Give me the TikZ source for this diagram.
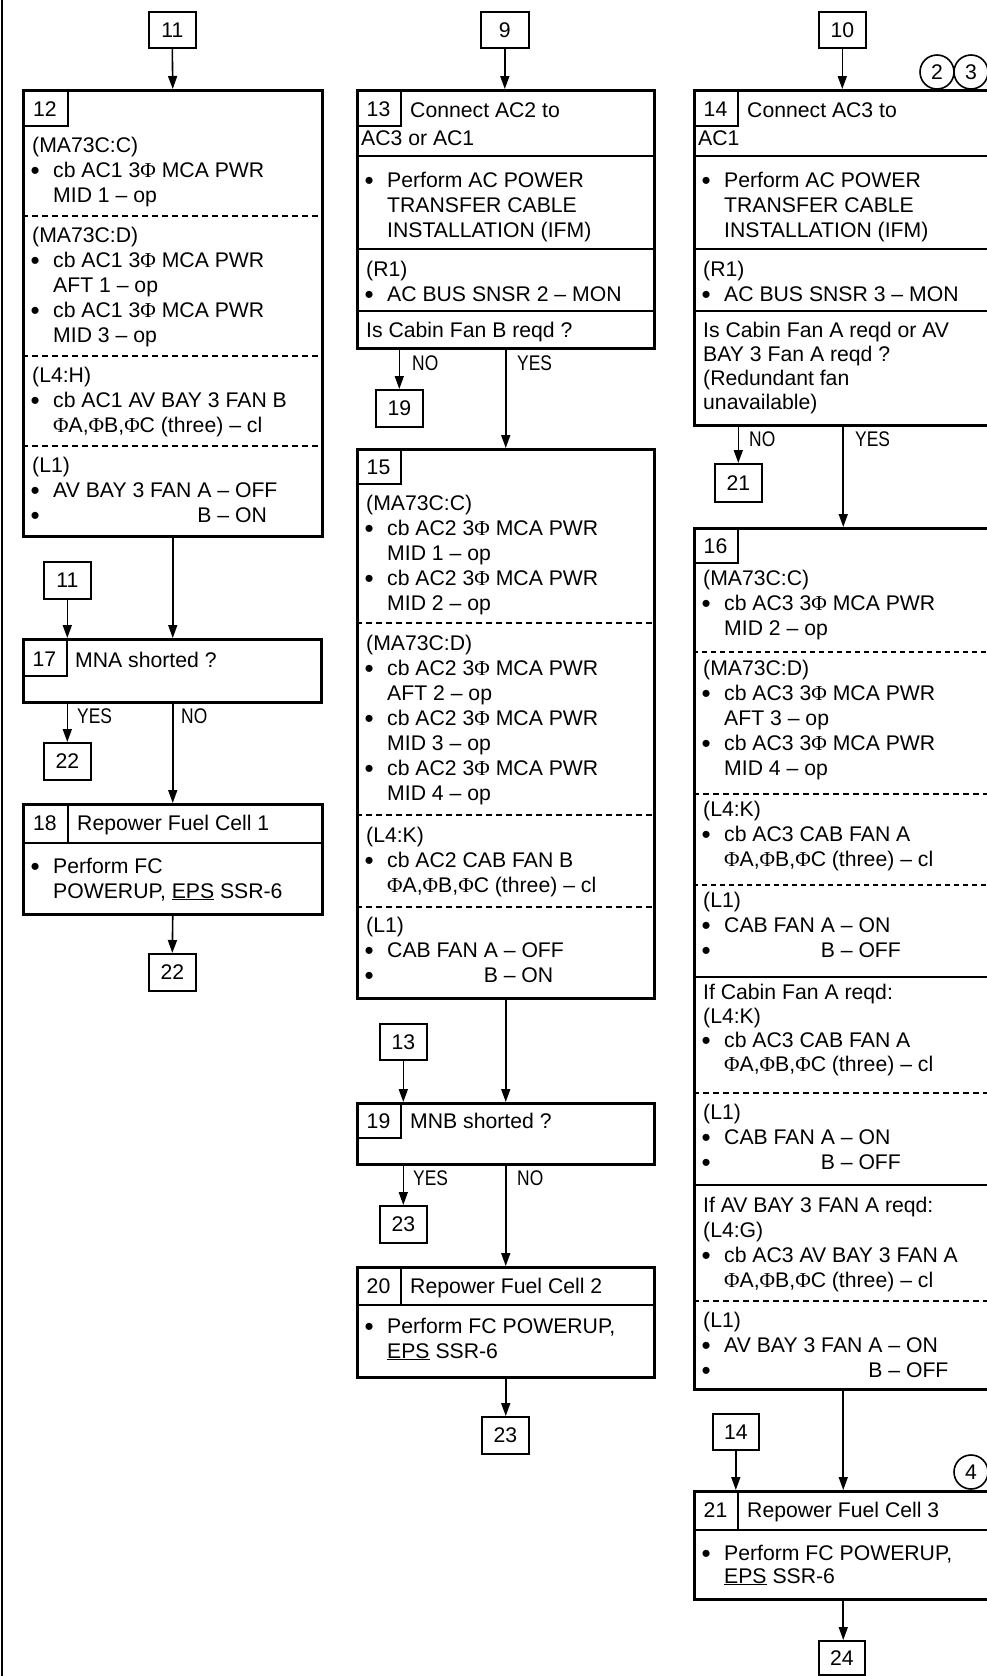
\documentclass[tikz,border=0pt]{standalone}
\usepackage{fontspec}
\setmainfont{Liberation Sans}
\newfontfamily\phfont{Liberation Serif}
\newfontfamily\narrowfont[FakeStretch=0.82]{Liberation Sans}
\usetikzlibrary{arrows.meta}
\newcommand{\Ph}{{\phfont Φ}}
\newcounter{tc}
\newcommand{\Tx}[3]{\stepcounter{tc}\node[txt] (t\arabic{tc}) at (#1,#2) {#3};}
\newcommand{\Nm}[3]{\stepcounter{tc}\node[num] (t\arabic{tc}) at (#1,#2) {#3};}
\newcommand{\Hd}[3]{\Tx{#1+10}{#2}{#3}}
\newcommand{\Bl}[3]{\Tx{#1+8.5}{#2+2}{\fontsize{26}{25}\selectfont •}\Tx{#1+31}{#2}{#3}}
\newcommand{\Lb}[3]{\stepcounter{tc}\node[txt,font=\fontsize{21.2}{25}\narrowfont] (t\arabic{tc}) at (#1,#2) {#3};}
\begin{document}
\begin{tikzpicture}[x=1pt,y=-1pt,
  every node/.style={font=\fontsize{21.2}{25}\selectfont},
  txt/.style={anchor=base west,inner sep=0pt},
  num/.style={anchor=base,inner sep=0pt},
  box/.style={draw,line width=2.5pt,anchor=north west,inner sep=0pt},
  sbox/.style={draw,line width=1.6pt,anchor=north west,inner sep=0pt},
  circ/.style={draw,circle,line width=1.6pt,minimum size=34pt,inner sep=0pt},
  tab/.style={line width=1.6pt},
  div/.style={line width=2.4pt},
  dsh/.style={line width=1.8pt,dash pattern=on 6pt off 4pt},
  dshb/.style={line width=2.4pt,dash pattern=on 5pt off 4pt},
  arr/.style={line width=1.6pt,-{Triangle[length=13pt,width=9pt]}},
]
\useasboundingbox (0,0) rectangle (987,1676);
\clip (0,0) rectangle (987,1676);
\draw[line width=2.5pt] (2,0) -- (2,1676);

% ================= Column 1 =================
\node[sbox,minimum width=47pt,minimum height=36pt] (r11a) at (148,11) {11};
\node[box,minimum width=299pt,minimum height=446pt] (b12) at (22,89) {};
\draw[arr] (r11a.south) -- (b12.north);
\draw[tab] (68,89) |- (22,126);
\Nm{45}{116}{12}
\Hd{22}{152}{(MA73C:C)}
\Bl{22}{177}{cb AC1 3\Ph{} MCA PWR}
\Tx{53}{202}{MID 1 – op}
\draw[dsh] (22,216) -- (321,216);
\Hd{22}{242}{(MA73C:D)}
\Bl{22}{267}{cb AC1 3\Ph{} MCA PWR}
\Tx{53}{292}{AFT 1 – op}
\Bl{22}{317}{cb AC1 3\Ph{} MCA PWR}
\Tx{53}{342}{MID 3 – op}
\draw[dsh] (22,356) -- (321,356);
\Hd{22}{382}{(L4:H)}
\Bl{22}{407}{cb AC1 AV BAY 3 FAN B}
\Tx{53}{432}{\Ph A,\Ph B,\Ph C (three) – cl}
\draw[dsh] (22,446) -- (321,446);
\Hd{22}{472}{(L1)}
\Bl{22}{497}{AV BAY 3 FAN A – OFF}
\Bl{22}{522}{\phantom{AV BAY 3 FAN }B – ON}

\node[sbox,minimum width=47pt,minimum height=37pt] (r11b) at (43,561) {11};
\node[box,minimum width=298pt,minimum height=63pt] (b17) at (22,638) {};
\draw[arr] (r11b.south) -- (r11b.south |- b17.north);
\draw[arr] (b12.south) -- (b12.south |- b17.north);
\draw[tab] (67,638) |- (22,676);
\Nm{44.5}{666}{17}
\Tx{75}{667}{MNA shorted ?}
\node[sbox,minimum width=47pt,minimum height=37pt] (r22a) at (43,742) {22};
\draw[arr] (b17.south -| r22a.north) -- (r22a.north);
\Lb{77}{723}{YES}
\node[box,minimum width=299pt,minimum height=110pt] (b18) at (22,803) {};
\draw[arr] (b17.south -| b18.north) -- (b18.north);
\Lb{181}{723}{NO}
\draw[div] (22,843) -- (321,843);
\draw[tab] (68,803) -- (68,843);
\Nm{45}{830}{18}
\Tx{77}{830}{Repower Fuel Cell 1}
\Bl{22}{873}{Perform FC}
\Tx{53}{898}{POWERUP, \underline{EPS} SSR-6}
\node[sbox,minimum width=47pt,minimum height=37pt] (r22b) at (148,953) {22};
\draw[arr] (b18.south) -- (r22b.north);

% ================= Column 2 =================
\node[sbox,minimum width=48pt,minimum height=36pt] (r9) at (480,11) {9};
\node[box,minimum width=297pt,minimum height=258pt] (b13) at (356,89) {};
\draw[arr] (r9.south) -- (r9.south |- b13.north);
\draw[tab] (401,89) |- (356,126);
\Nm{378.5}{116}{13}
\Tx{410}{117}{Connect AC2 to}
\Tx{361}{145}{AC3 or AC1}
\draw[div] (356,156) -- (653,156);
\Bl{356}{187}{Perform AC POWER}
\Tx{387}{212}{TRANSFER CABLE}
\Tx{387}{237}{INSTALLATION (IFM)}
\draw[div] (356,249) -- (653,249);
\Hd{356}{276}{(R1)}
\Bl{356}{301}{AC BUS SNSR 2 – MON}
\draw[div] (356,311) -- (653,311);
\Hd{356}{337}{Is Cabin Fan B reqd ?}

\node[sbox,minimum width=47pt,minimum height=37pt] (r19) at (375,389) {19};
\draw[arr] (b13.south -| r19.north) -- (r19.north);
\Lb{412}{370}{NO}
\node[box,minimum width=297pt,minimum height=549pt] (b15) at (356,448) {};
\draw[arr] (b13.south) -- (b13.south |- b15.north);
\Lb{517}{370}{YES}
\draw[tab] (401,448) |- (356,484);
\Nm{378.5}{474}{15}
\Hd{356}{510}{(MA73C:C)}
\Bl{356}{535}{cb AC2 3\Ph{} MCA PWR}
\Tx{387}{560}{MID 1 – op}
\Bl{356}{585}{cb AC2 3\Ph{} MCA PWR}
\Tx{387}{610}{MID 2 – op}
\draw[dsh] (356,623) -- (653,623);
\Hd{356}{650}{(MA73C:D)}
\Bl{356}{675}{cb AC2 3\Ph{} MCA PWR}
\Tx{387}{700}{AFT 2 – op}
\Bl{356}{725}{cb AC2 3\Ph{} MCA PWR}
\Tx{387}{750}{MID 3 – op}
\Bl{356}{775}{cb AC2 3\Ph{} MCA PWR}
\Tx{387}{800}{MID 4 – op}
\draw[dsh] (356,815) -- (653,815);
\Hd{356}{842}{(L4:K)}
\Bl{356}{867}{cb AC2 CAB FAN B}
\Tx{387}{892}{\Ph A,\Ph B,\Ph C (three) – cl}
\draw[dsh] (356,907) -- (653,907);
\Hd{356}{932}{(L1)}
\Bl{356}{957}{CAB FAN A – OFF}
\Bl{356}{982}{\phantom{CAB FAN }B – ON}

\node[sbox,minimum width=47pt,minimum height=36pt] (r13) at (379,1023) {13};
\node[box,minimum width=297pt,minimum height=61pt] (b19) at (356,1102) {};
\draw[arr] (r13.south) -- (r13.south |- b19.north);
\draw[arr] (b15.south) -- (b15.south |- b19.north);
\draw[tab] (401,1102) |- (356,1138);
\Nm{378.5}{1128}{19}
\Tx{410}{1128}{MNB shorted ?}
\node[sbox,minimum width=47pt,minimum height=37pt] (r23a) at (379,1205) {23};
\draw[arr] (b19.south -| r23a.north) -- (r23a.north);
\Lb{413}{1185}{YES}
\node[box,minimum width=297pt,minimum height=110pt] (b20) at (356,1266) {};
\draw[arr] (b19.south) -- (b19.south |- b20.north);
\Lb{517}{1185}{NO}
\draw[div] (356,1305) -- (653,1305);
\draw[tab] (401,1266) -- (401,1305);
\Nm{378.5}{1293}{20}
\Tx{410}{1293}{Repower Fuel Cell 2}
\Bl{356}{1333}{Perform FC POWERUP,}
\Tx{387}{1358}{\underline{EPS} SSR-6}
\node[sbox,minimum width=47pt,minimum height=37pt] (r23b) at (481,1416) {23};
\draw[arr] (b20.south) -- (b20.south |- r23b.north);

% ================= Column 3 =================
\node[sbox,minimum width=47pt,minimum height=36pt] (r10) at (818,11) {10};
\node[circ] (c2) at (937,72) {2};
\node[circ] (c3) at (971,72) {3};
\node[box,minimum width=298pt,minimum height=335pt] (b14) at (693,89) {};
\draw[arr] (r10.south) -- (r10.south |- b14.north);
\draw[tab] (738,89) |- (693,126);
\Nm{715.5}{116}{14}
\Tx{747}{117}{Connect AC3 to}
\Tx{698}{145}{AC1}
\draw[div] (693,156) -- (991,156);
\Bl{693}{187}{Perform AC POWER}
\Tx{724}{212}{TRANSFER CABLE}
\Tx{724}{237}{INSTALLATION (IFM)}
\draw[div] (693,249) -- (991,249);
\Hd{693}{276}{(R1)}
\Bl{693}{301}{AC BUS SNSR 3 – MON}
\draw[div] (693,311) -- (991,311);
\Hd{693}{337}{Is Cabin Fan A reqd or AV}
\Hd{693}{361}{BAY 3 Fan A reqd ?}
\Hd{693}{385}{(Redundant fan}
\Hd{693}{409}{unavailable)}

\node[sbox,minimum width=47pt,minimum height=38pt] (r21) at (714,463) {21};
\draw[arr] (b14.south -| r21.north) -- (r21.north);
\Lb{749}{446}{NO}
\node[box,minimum width=298pt,minimum height=861pt] (b16) at (693,527) {};
\draw[arr] (b14.south) -- (b14.south |- b16.north);
\Lb{855}{446}{YES}
\draw[tab] (738,527) |- (693,563);
\Nm{715.5}{553}{16}
\Hd{693}{585}{(MA73C:C)}
\Bl{693}{610}{cb AC3 3\Ph{} MCA PWR}
\Tx{724}{635}{MID 2 – op}
\draw[dshb] (693,652) -- (991,652);
\Hd{693}{675}{(MA73C:D)}
\Bl{693}{700}{cb AC3 3\Ph{} MCA PWR}
\Tx{724}{725}{AFT 3 – op}
\Bl{693}{750}{cb AC3 3\Ph{} MCA PWR}
\Tx{724}{775}{MID 4 – op}
\draw[dsh] (693,794) -- (991,794);
\Hd{693}{816}{(L4:K)}
\Bl{693}{841}{cb AC3 CAB FAN A}
\Tx{724}{866}{\Ph A,\Ph B,\Ph C (three) – cl}
\draw[dshb] (693,885) -- (991,885);
\Hd{693}{907}{(L1)}
\Bl{693}{932}{CAB FAN A – ON}
\Bl{693}{957}{\phantom{CAB FAN }B – OFF}
\draw[div] (693,977) -- (991,977);
\Hd{693}{999}{If Cabin Fan A reqd:}
\Hd{693}{1023}{(L4:K)}
\Bl{693}{1047}{cb AC3 CAB FAN A}
\Tx{724}{1071}{\Ph A,\Ph B,\Ph C (three) – cl}
\draw[dsh] (693,1093) -- (991,1093);
\Hd{693}{1119}{(L1)}
\Bl{693}{1144}{CAB FAN A – ON}
\Bl{693}{1169}{\phantom{CAB FAN }B – OFF}
\draw[div] (693,1185) -- (991,1185);
\Hd{693}{1212}{If AV BAY 3 FAN A reqd:}
\Hd{693}{1237}{(L4:G)}
\Bl{693}{1262}{cb AC3 AV BAY 3 FAN A}
\Tx{724}{1287}{\Ph A,\Ph B,\Ph C (three) – cl}
\draw[dsh] (693,1301) -- (991,1301);
\Hd{693}{1327}{(L1)}
\Bl{693}{1352}{AV BAY 3 FAN A – ON}
\Bl{693}{1377}{\phantom{AV BAY 3 FAN }B – OFF}

\node[sbox,minimum width=46pt,minimum height=36pt] (r14) at (712,1413) {14};
\node[circ] (c4) at (971,1472) {4};
\node[box,minimum width=298pt,minimum height=108pt] (b21) at (693,1490) {};
\draw[arr] (r14.south) -- (r14.south |- b21.north);
\draw[arr] (b16.south) -- (b16.south |- b21.north);
\draw[div] (693,1530) -- (991,1530);
\draw[tab] (738,1490) -- (738,1530);
\Nm{715.5}{1517}{21}
\Tx{747}{1517}{Repower Fuel Cell 3}
\Bl{693}{1560}{Perform FC POWERUP,}
\Tx{724}{1583}{\underline{EPS} SSR-6}
\node[sbox,minimum width=46pt,minimum height=34pt] (r24) at (818,1640) {24};
\draw[arr] (b21.south) -- (b21.south |- r24.north);
\end{tikzpicture}
\end{document}
